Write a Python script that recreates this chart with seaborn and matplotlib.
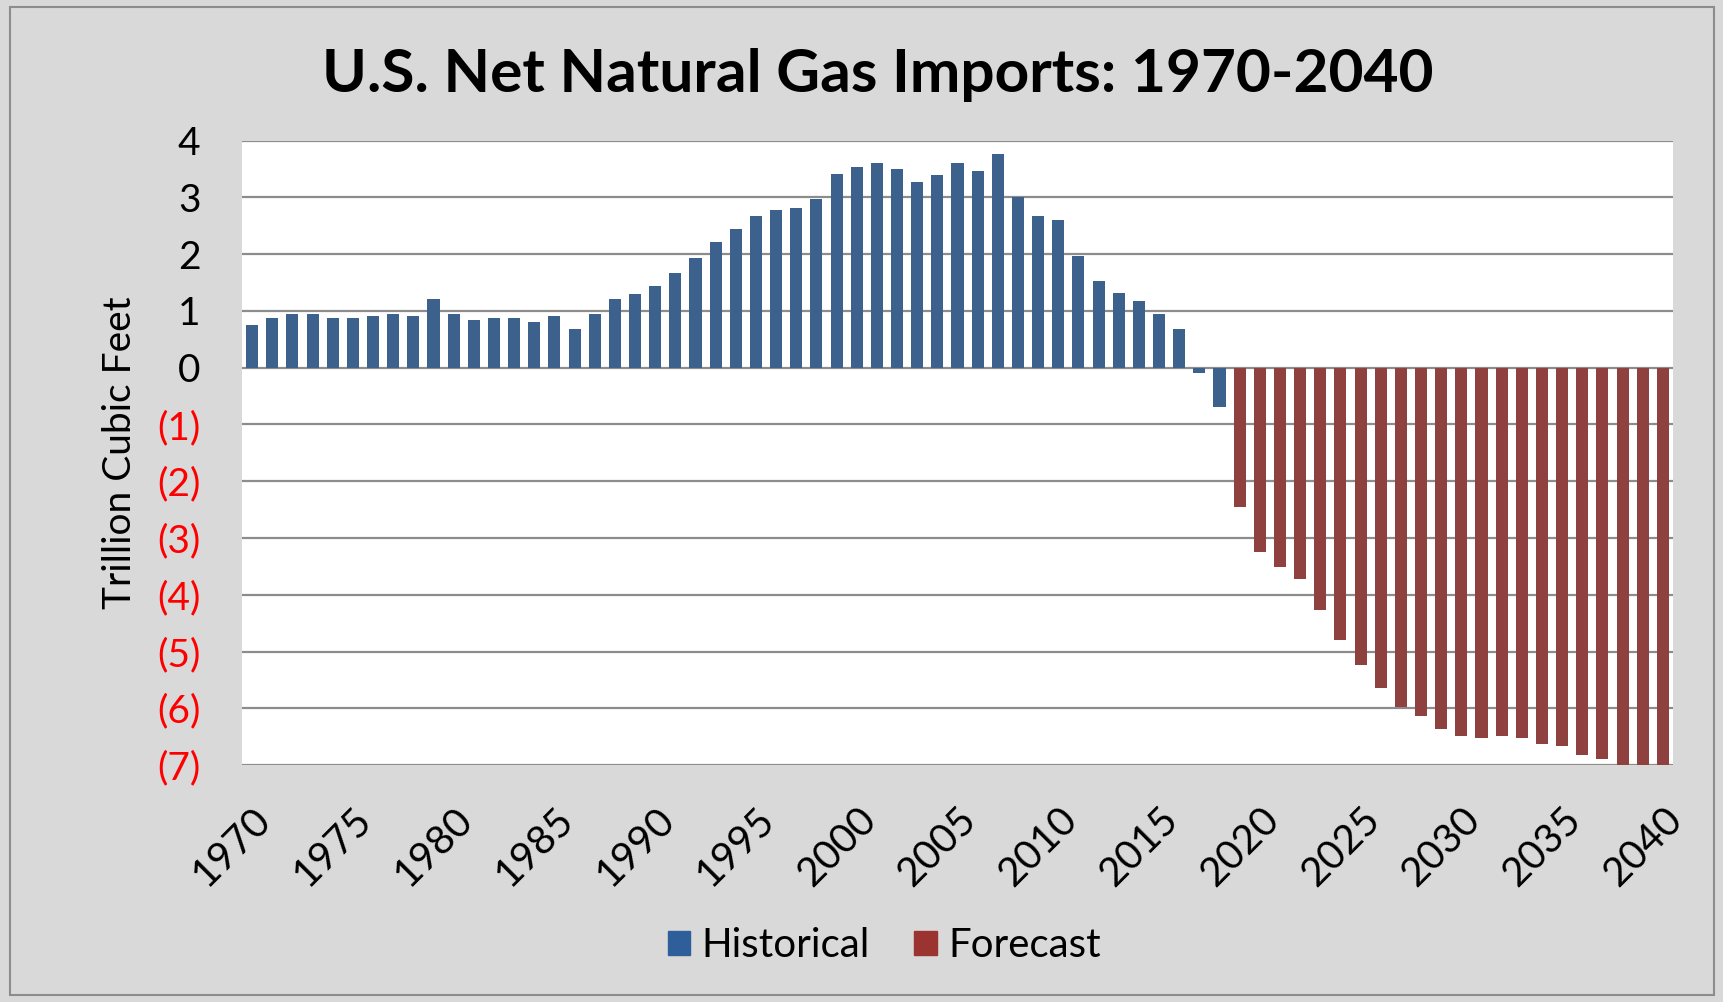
'''
U.S. net natural gas imports, 1970-2040: historical vs forecast bars.
'''

import matplotlib
matplotlib.use('Agg')
import matplotlib.pyplot as plt
import matplotlib.patches as mpatches
import pandas as pd
import seaborn as sns

### DATA ###
hist_years = list(range(1970, 2019))
hist_values = [0.76, 0.87, 0.95, 0.95, 0.87, 0.87, 0.91, 0.95, 0.91, 1.21,
               0.95, 0.84, 0.87, 0.87, 0.80, 0.91, 0.69, 0.95, 1.21, 1.29,
               1.44, 1.66, 1.93, 2.22, 2.45, 2.67, 2.78, 2.82, 2.98, 3.42,
               3.53, 3.61, 3.50, 3.27, 3.39, 3.61, 3.46, 3.76, 3.00, 2.67,
               2.60, 1.97, 1.52, 1.32, 1.17, 0.95, 0.69, -0.09, -0.69]
fcst_years = list(range(2019, 2041))
fcst_values = [-2.45, -3.24, -3.51, -3.73, -4.26, -4.79, -5.24, -5.65, -5.97, -6.14,
               -6.37, -6.48, -6.53, -6.48, -6.53, -6.63, -6.67, -6.83, -6.89, -7.0,
               -7.05, -7.1]
y_ticks = [4, 3, 2, 1, 0, -1, -2, -3, -4, -5, -6, -7]
x_ticks = list(range(1970, 2041, 5))

df = pd.DataFrame({
    'year': hist_years + fcst_years,
    'value': hist_values + fcst_values,
    'period': ['Historical'] * len(hist_years) + ['Forecast'] * len(fcst_years),
})

BLUE = '#2f5f9b'
RED = '#9b3431'
BG = '#d9d9d9'

sns.set_style('white')
plt.rcParams['font.family'] = ['Lato', 'DejaVu Sans']
plt.rcParams['text.color'] = 'black'
plt.rcParams['axes.labelcolor'] = 'black'
plt.rcParams['xtick.color'] = 'black'
plt.rcParams['ytick.color'] = 'black'

fig = plt.figure(figsize=(17.24, 10.02), dpi=100, facecolor=BG)
ax = fig.add_axes([0.1404, 0.2365, 0.8300, 0.6231])
ax.set_facecolor('white')

sns.barplot(data=df, x='year', y='value', hue='period', native_scale=True,
            dodge=False, width=0.6, linewidth=0, legend=False,
            palette={'Historical': BLUE, 'Forecast': RED}, ax=ax)

ax.set_xlim(1969.5, 2040.5)
ax.set_ylim(-7, 4)
ax.set_yticks(y_ticks)
ax.set_yticklabels([str(v) if v >= 0 else f'({-v})' for v in y_ticks], fontsize=28)
for lbl, v in zip(ax.get_yticklabels(), y_ticks):
    lbl.set_color('black' if v >= 0 else '#ff0000')
ax.set_xticks(x_ticks)
ax.set_xticklabels([str(y) for y in x_ticks], fontsize=29, rotation=45,
                   ha='right', rotation_mode='anchor')
ax.tick_params(axis='both', length=0)
ax.tick_params(axis='y', pad=30)
ax.tick_params(axis='x', pad=26)

ax.set_axisbelow(True)
ax.yaxis.grid(True, color='#8c8c8c', linewidth=1.6)
for s in ax.spines.values():
    s.set_visible(False)

ax.set_xlabel('')
ax.set_ylabel('Trillion Cubic Feet', fontsize=28, labelpad=14)

fig.suptitle('U.S. Net Natural Gas Imports: 1970-2040', fontsize=43.5,
             fontweight='bold', x=0.509, y=0.925, va='center')

handles = [mpatches.Patch(color=BLUE, label='Historical'),
           mpatches.Patch(color=RED, label='Forecast')]
fig.legend(handles=handles, loc='center', bbox_to_anchor=(0.513, 0.056), ncol=2,
           frameon=False, fontsize=29, handlelength=0.55, handleheight=0.55,
           handletextpad=0.3, columnspacing=1.1)

# outer chart border
fig.patches.append(mpatches.Rectangle((0.006, 0.007), 0.988, 0.986, transform=fig.transFigure,
                                      fill=False, edgecolor='#8c8c8c', linewidth=1.5))

plt.savefig('out.png', dpi=100, facecolor=BG)
